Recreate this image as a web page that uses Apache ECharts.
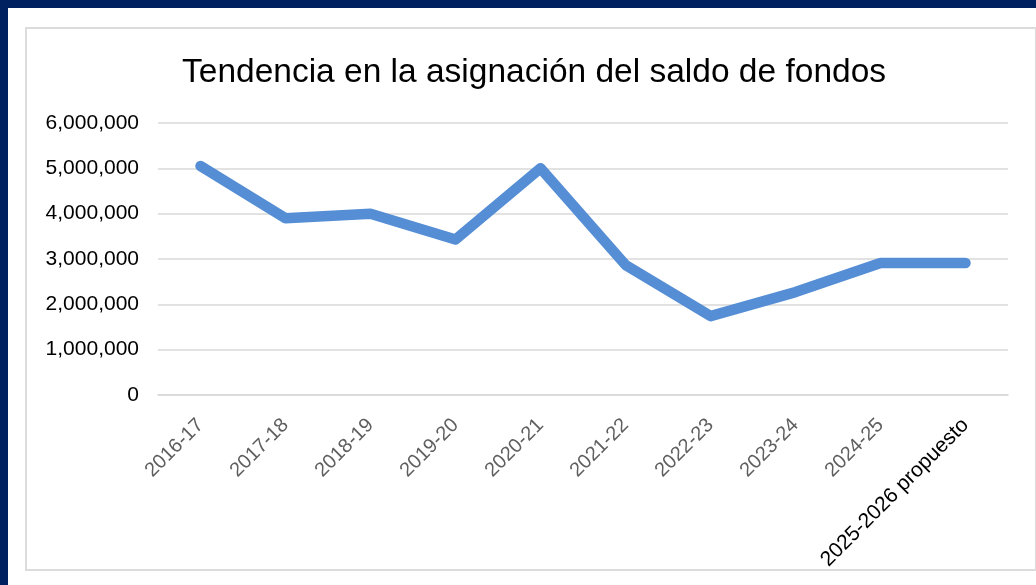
<!DOCTYPE html>
<html>
<head>
<meta charset="utf-8">
<script src="https://cdn.jsdelivr.net/npm/echarts@6/dist/echarts.min.js"></script>
<style>
  html, body { margin: 0; padding: 0; background: #ffffff; }
  .frame-top { position: absolute; left: 0; top: 0; width: 1036px; height: 8px; background: #00215f; }
  .frame-left { position: absolute; left: 0; top: 0; width: 8px; height: 585px; background: #00215f; }
  .box { position: absolute; left: 25px; top: 27px; width: 1008px; height: 540px; border: 2px solid #dcdcdc; }
  #chart { position: absolute; left: 0; top: 0; width: 1036px; height: 585px; }
</style>
</head>
<body>
<div class="frame-top"></div>
<div class="frame-left"></div>
<div class="box"></div>
<div id="chart"></div>
<script>
// datos del gráfico
const years = ["2016-17", "2017-18", "2018-19", "2019-20", "2020-21", "2021-22", "2022-23", "2023-24", "2024-25", "2025-2026 propuesto"];
const saldo = [5050000, 3900000, 4000000, 3430000, 5000000, 2870000, 1740000, 2270000, 2910000, 2910000];
const yTicks = [0, 1000000, 2000000, 3000000, 4000000, 5000000, 6000000];

const chart = echarts.init(document.getElementById("chart"));

const option = {
  animation: false,
  title: {
    text: "Tendencia en la asignación del saldo de fondos",
    left: 177,
    top: 51,
    textStyle: {
      fontFamily: "Liberation Sans",
      fontSize: 33.5,
      fontWeight: "normal",
      color: "#000000",
    },
  },
  grid: {
    left: 158,
    right: 28,
    top: 123,
    bottom: 190,
  },
  xAxis: {
    type: "category",
    boundaryGap: true,
    data: years.map((y, i) =>
      i === years.length - 1
        ? { value: y, textStyle: { color: "#000000", fontSize: 21 } }
        : y
    ),
    axisLine: { lineStyle: { color: "#d9d9d9", width: 1.5 } },
    axisTick: { show: false },
    axisLabel: {
      rotate: 45,
      interval: 0,
      margin: 27,
      fontFamily: "Liberation Sans",
      fontSize: 20,
      color: "#5f5f5f",
    },
  },
  yAxis: {
    type: "value",
    min: yTicks[0],
    max: yTicks[yTicks.length - 1],
    interval: 1000000,
    axisLine: { show: false },
    axisTick: { show: false },
    splitLine: { lineStyle: { color: "#d9d9d9", width: 1.5 } },
    axisLabel: {
      margin: 19,
      fontFamily: "Liberation Sans",
      fontSize: 21,
      color: "#000000",
      formatter: (v) => v.toLocaleString("en-US"),
    },
  },
  series: [
    {
      name: "Saldo",
      type: "line",
      data: saldo,
      symbol: "none",
      lineStyle: { color: "#558ed5", width: 10.5, cap: "round", join: "round" },
      itemStyle: { color: "#558ed5" },
    },
  ],
};

chart.setOption(option);
</script>
</body>
</html>
